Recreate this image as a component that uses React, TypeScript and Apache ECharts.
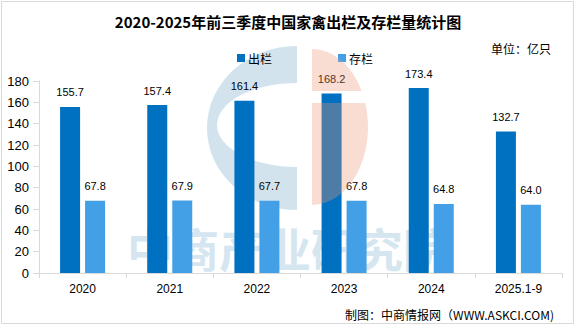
import React, { useEffect, useRef } from "react";
import * as echarts from "echarts";

const categories = ["2020", "2021", "2022", "2023", "2024", "2025.1-9"];
const outValues = [155.7, 157.4, 161.4, 168.2, 173.4, 132.7];
const stockValues = [67.8, 67.9, 67.7, 67.8, 64.8, 64.0];
const seriesNames = ["出栏", "存栏"];

const C_PATH = "M297 46 A90 82 0 0 0 297 210 L297 167 A80 42 0 0 1 297 83 Z";
const P_TOP = "M312 49 A56 78 0 0 1 361.7 91 L312 91 Z";
const P_BOT = "M312 103 L365.3 103 A56 78 0 0 1 312 205 Z";

let registered = false;
function registerShapes() {
  if (registered) return;
  echarts.graphic.registerShape("wmC", echarts.graphic.extendPath(C_PATH, {}) as any);
  echarts.graphic.registerShape("wmPTop", echarts.graphic.extendPath(P_TOP, {}) as any);
  echarts.graphic.registerShape("wmPBot", echarts.graphic.extendPath(P_BOT, {}) as any);
  registered = true;
}

export default function App() {
  const ref = useRef<HTMLDivElement>(null);
  useEffect(() => {
    document.body.style.margin = "0";
    registerShapes();
    const chart = echarts.init(ref.current!, null, { renderer: "svg" });
    const cjk = "'Noto Sans CJK SC', sans-serif";
    const num = "'Liberation Sans', Arial, sans-serif";
    chart.setOption({
      animation: false,
      backgroundColor: "#ffffff",
      title: {
        text: "2020-2025年前三季度中国家禽出栏及存栏量统计图",
        left: "center",
        top: 9,
        textStyle: { fontFamily: cjk, fontSize: 15, fontWeight: "bold", color: "#000" },
      },
      legend: {
        data: seriesNames,
        left: 232,
        top: 47,
        itemWidth: 8,
        itemHeight: 8,
        itemGap: 66,
        icon: "rect",
        textStyle: { fontFamily: cjk, fontSize: 12, color: "#000", padding: [0, 0, 0, -2] },
      },
      grid: { left: 39, right: 14, top: 81, bottom: 54, containLabel: false },
      xAxis: {
        type: "category",
        data: categories,
        axisLine: { lineStyle: { color: "#d9d9d9" } },
        axisTick: { show: true, length: 5, lineStyle: { color: "#d9d9d9" } },
        axisLabel: { fontFamily: num, fontSize: 12, color: "#000", margin: 10 },
      },
      yAxis: {
        type: "value",
        min: 0,
        max: 180,
        interval: 20,
        splitLine: { show: false },
        axisLine: { show: true, lineStyle: { color: "#d9d9d9" } },
        axisTick: { show: true, length: 6, lineStyle: { color: "#d9d9d9" } },
        axisLabel: { fontFamily: num, fontSize: 13, color: "#000", margin: 10 },
      },
      series: [
        {
          name: seriesNames[0],
          type: "bar",
          data: outValues,
          barWidth: 20,
          barGap: "25%",
          itemStyle: { color: "#0070c0" },
          label: {
            show: true,
            position: "top",
            distance: 9,
            fontFamily: num,
            fontSize: 11,
            color: "#000",
            formatter: (p: any) => Number(p.value).toFixed(1),
          },
        },
        {
          name: seriesNames[1],
          type: "bar",
          data: stockValues,
          barWidth: 20,
          itemStyle: { color: "#43a0e6" },
          label: {
            show: true,
            position: "top",
            distance: 9,
            fontFamily: num,
            fontSize: 11,
            color: "#000",
            formatter: (p: any) => Number(p.value).toFixed(1),
          },
        },
      ],
      graphic: [
        {
          type: "rect",
          z: -10,
          silent: true,
          shape: { x: 1.5, y: 1.5, width: 572, height: 322 },
          style: { fill: "none", stroke: "#d9d9d9", lineWidth: 1 },
        },
        {
          type: "wmC",
          x: 0,
          y: 0,
          z: -5,
          silent: true,
          style: { fill: "#d2e3ee" },
        },
        {
          type: "text",
          z: -5,
          silent: true,
          x: 288,
          y: 247,
          style: {
            text: "中商产业研究院",
            fontFamily: cjk,
            fontSize: 46,
            fontWeight: "bold",
            fill: "#d6e6f0",
            align: "center",
            verticalAlign: "middle",
          },
        },
        {
          type: "wmPTop",
          x: 0,
          y: 0,
          z: 10,
          silent: true,
          style: { fill: "rgb(238,150,115)", opacity: 0.32 },
        },
        {
          type: "wmPBot",
          x: 0,
          y: 0,
          z: 10,
          silent: true,
          style: { fill: "rgb(238,150,115)", opacity: 0.32 },
        },
        {
          type: "text",
          z: 20,
          right: 25,
          top: 42,
          style: { text: "单位：亿只", fontFamily: cjk, fontSize: 12, fill: "#000" },
        },
        {
          type: "text",
          z: 20,
          right: 22,
          top: 308,
          style: { text: "制图：中商情报网（WWW.ASKCI.COM)", fontFamily: cjk, fontSize: 12, fill: "#000" },
        },
      ],
    });
    return () => chart.dispose();
  }, []);
  return <div ref={ref} style={{ width: 576, height: 327 }} />;
}
